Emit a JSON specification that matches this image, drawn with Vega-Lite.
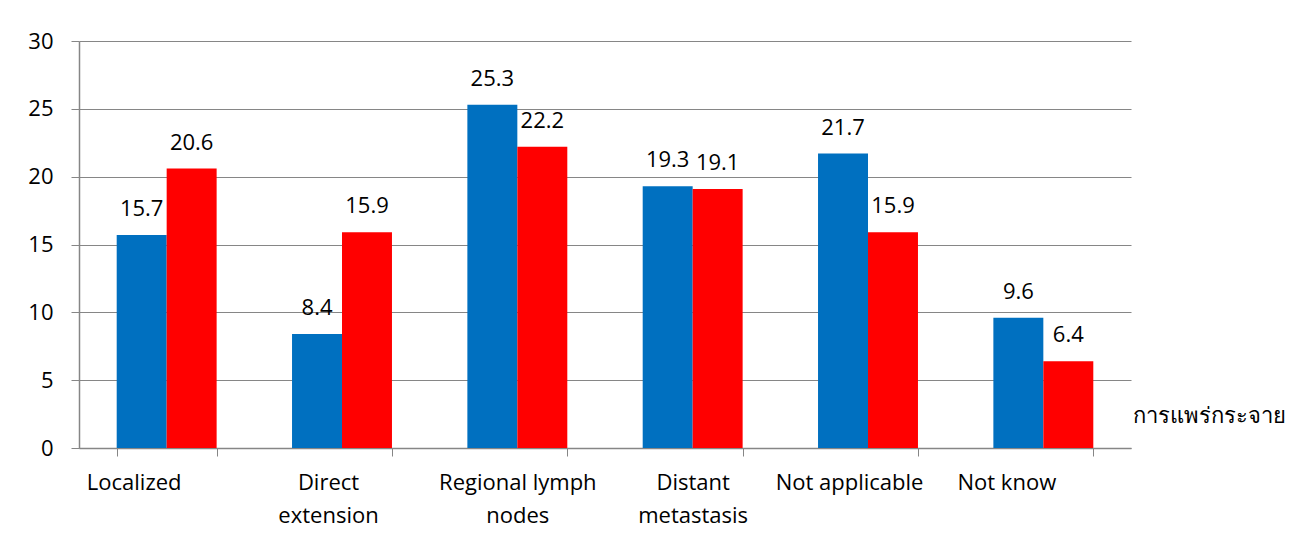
{
  "$schema": "https://vega.github.io/schema/vega-lite/v6.json",
  "autosize": "none",
  "width": 1052,
  "height": 407,
  "padding": {"left": 79, "top": 41, "right": 168, "bottom": 91},
  "background": "white",
  "config": {
    "view": {"stroke": null},
    "font": "Open Sans",
    "axis": {"labelFont": "Open Sans", "labelFontSize": 22, "labelColor": "#000000", "titleFont": "Open Sans"}
  },
  "data": {
    "values": [
      {"category": "Localized", "series": "Series 1", "value": 15.7},
      {"category": "Localized", "series": "Series 2", "value": 20.6},
      {"category": "Direct extension", "series": "Series 1", "value": 8.4},
      {"category": "Direct extension", "series": "Series 2", "value": 15.9},
      {"category": "Regional lymph nodes", "series": "Series 1", "value": 25.3},
      {"category": "Regional lymph nodes", "series": "Series 2", "value": 22.2},
      {"category": "Distant metastasis", "series": "Series 1", "value": 19.3},
      {"category": "Distant metastasis", "series": "Series 2", "value": 19.1},
      {"category": "Not applicable", "series": "Series 1", "value": 21.7},
      {"category": "Not applicable", "series": "Series 2", "value": 15.9},
      {"category": "Not know", "series": "Series 1", "value": 9.6},
      {"category": "Not know", "series": "Series 2", "value": 6.4}
    ]
  },
  "encoding": {
    "x": {
      "field": "category",
      "type": "nominal",
      "sort": null,
      "scale": {"paddingInner": 0.43, "paddingOuter": 0.215},
      "axis": {
        "title": "การแพร่กระจาย",
        "titleFontSize": 22,
        "titleFontWeight": "normal",
        "titleColor": "#000000",
        "titleAlign": "left",
        "titleBaseline": "middle",
        "titleX": 1053,
        "titleY": -33,
        "titleAngle": 0,
        "labelAngle": 0,
        "labelAlign": "center",
        "labelBaseline": "top",
        "labelPadding": 16,
        "labelLineHeight": 33,
        "labelOffset": {"expr": "datum.value === 'Localized' ? -33 : datum.value === 'Direct extension' ? -14 : datum.value === 'Not applicable' ? -19 : datum.value === 'Not know' ? -37 : 0"},
        "labelExpr": "datum.label === 'Direct extension' ? ['Direct', 'extension'] : datum.label === 'Regional lymph nodes' ? ['Regional lymph', 'nodes'] : datum.label === 'Distant metastasis' ? ['Distant', 'metastasis'] : datum.label",
        "tickBand": "extent",
        "tickSize": 8,
        "tickColor": "#868686",
        "domainColor": "#868686",
        "domainWidth": 1.5,
        "grid": false
      }
    },
    "xOffset": {"field": "series", "type": "nominal", "scale": {"paddingInner": 0, "paddingOuter": 0}},
    "y": {
      "field": "value",
      "type": "quantitative",
      "scale": {"domain": [0, 30], "nice": false},
      "axis": {
        "title": null,
        "values": [0, 5, 10, 15, 20, 25, 30],
        "tickSize": 8,
        "tickColor": "#868686",
        "domainColor": "#868686",
        "domainWidth": 1.5,
        "gridColor": "#868686",
        "gridWidth": 1.2,
        "labelPadding": 18
      }
    }
  },
  "layer": [
    {
      "mark": {"type": "bar"},
      "encoding": {
        "color": {
          "field": "series",
          "type": "nominal",
          "scale": {"domain": ["Series 1", "Series 2"], "range": ["#0070C0", "#FF0000"]},
          "legend": null
        }
      }
    },
    {
      "mark": {"type": "text", "baseline": "alphabetic", "dy": -19, "fontSize": 22, "font": "Open Sans", "color": "#000000"},
      "encoding": {
        "text": {"field": "value", "type": "quantitative", "format": ".1f"}
      }
    }
  ]
}
